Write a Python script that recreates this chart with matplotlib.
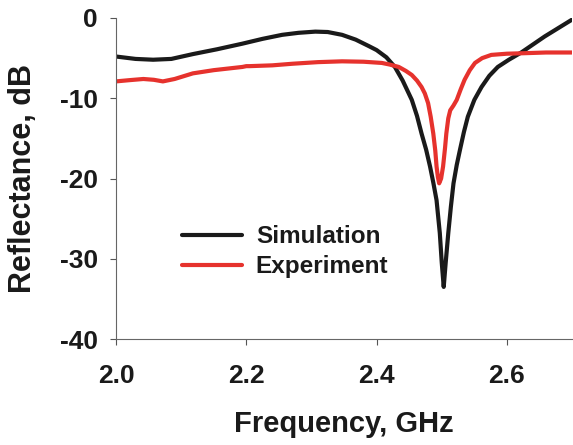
import numpy as np
import matplotlib
matplotlib.use("Agg")
from matplotlib import pyplot as plt

plt.rcParams['font.family'] = ['Liberation Sans', 'DejaVu Sans']
plt.rcParams['font.weight'] = 'bold'

# Simulation curve (frequency GHz, reflectance dB)
sim_f = [2.000, 2.030, 2.057, 2.085, 2.118, 2.155, 2.194, 2.225, 2.255, 2.280,
         2.306, 2.325, 2.347, 2.368, 2.388, 2.400, 2.415, 2.428, 2.440, 2.454,
         2.462, 2.469, 2.476, 2.482, 2.487, 2.492, 2.497, 2.500, 2.503, 2.506,
         2.510, 2.514, 2.518, 2.523, 2.528, 2.534, 2.540, 2.550, 2.561, 2.573,
         2.586, 2.603, 2.622, 2.640, 2.658, 2.680, 2.700]
sim_db = [-4.8, -5.1, -5.2, -5.1, -4.5, -3.9, -3.2, -2.6, -2.1, -1.85,
          -1.7, -1.75, -2.1, -2.7, -3.5, -4.0, -4.9, -6.1, -7.8, -10.2,
          -12.2, -14.4, -16.4, -18.5, -20.5, -22.7, -26.8, -30.5, -33.5, -30.5,
          -26.8, -23.5, -20.6, -18.3, -16.4, -14.2, -12.3, -10.2, -8.6, -7.2,
          -6.1, -5.2, -4.3, -3.3, -2.3, -1.2, -0.2]

# Experiment curve
exp_f = [2.000, 2.020, 2.042, 2.058, 2.072, 2.090, 2.118, 2.150, 2.194, 2.200,
         2.205, 2.240, 2.271, 2.310, 2.347, 2.380, 2.408, 2.420, 2.434, 2.445,
         2.454, 2.462, 2.469, 2.474, 2.479, 2.483, 2.487, 2.490, 2.492, 2.494,
         2.496, 2.499, 2.502, 2.505, 2.507, 2.510, 2.513, 2.518, 2.523, 2.529,
         2.535, 2.543, 2.551, 2.562, 2.576, 2.600, 2.622, 2.660, 2.700]
exp_db = [-7.9, -7.75, -7.6, -7.7, -7.9, -7.6, -6.9, -6.5, -6.1, -6.0,
          -6.0, -5.9, -5.7, -5.5, -5.4, -5.45, -5.6, -5.8, -6.1, -6.6,
          -7.1, -7.8, -8.6, -9.4, -10.6, -12.3, -14.4, -16.5, -18.5, -19.8,
          -20.6, -20.0, -18.5, -16.2, -14.4, -12.5, -11.5, -10.9, -10.2, -8.9,
          -7.7, -6.5, -5.6, -5.0, -4.6, -4.45, -4.4, -4.3, -4.3]

x_ticks = [2.0, 2.2, 2.4, 2.6]
x_labels = ['2.0', '2.2', '2.4', '2.6']
y_ticks = [0, -10, -20, -30, -40]
y_labels = ['0', '-10', '-20', '-30', '-40']

fig = plt.figure(figsize=(5.73, 4.45), dpi=100)
ax = fig.add_axes([0.2024, 0.238, 0.796, 0.7216])

ax.plot(sim_f, sim_db, color='#1a1a1a', lw=3, label='Simulation', solid_capstyle='round')
ax.plot(exp_f, exp_db, color='#e6322d', lw=3, label='Experiment', solid_capstyle='round')

ax.set_xlim(2.0, 2.7)
ax.set_ylim(-40, 0)
ax.set_xticks(x_ticks, x_labels)
ax.set_yticks(y_ticks, y_labels)
ax.tick_params(direction='out', length=4, width=0.8, color='#555555',
               labelsize=19, labelcolor='#1a1a1a')
ax.tick_params(axis='x', pad=14)
ax.tick_params(axis='y', pad=9)
for s in ['top', 'right']:
    ax.spines[s].set_visible(False)
for s in ['left', 'bottom']:
    ax.spines[s].set_color('#666666')
    ax.spines[s].set_linewidth(0.8)

ax.set_xlabel('Frequency, GHz', fontsize=21, fontweight='bold', color='#1a1a1a', labelpad=16)
ax.set_ylabel('Reflectance, dB', fontsize=22, fontweight='bold', color='#1a1a1a', labelpad=16)

leg = ax.legend(loc='center left', bbox_to_anchor=(0.144, 0.272), frameon=False,
                fontsize=17.5, handlelength=2.5, handletextpad=0.55, labelspacing=0.3,
                borderpad=0, borderaxespad=0)
for t in leg.get_texts():
    t.set_color('#1a1a1a')

fig.savefig('out.png', dpi=100)
